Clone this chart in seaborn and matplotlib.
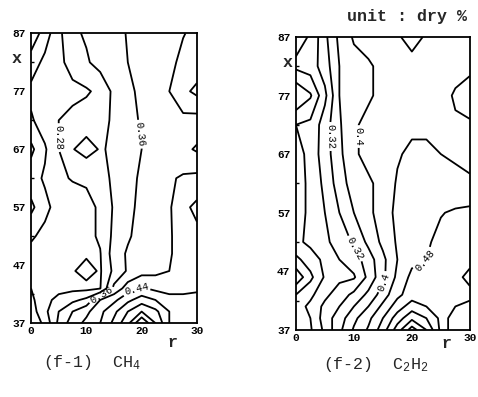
import numpy as np
import matplotlib
matplotlib.use("Agg")
import matplotlib.pyplot as plt
import seaborn as sns

sns.set_theme(style="white")
plt.rcParams['font.family'] = ['Liberation Mono', 'DejaVu Sans']
plt.rcParams['mathtext.fontset'] = 'custom'
plt.rcParams['mathtext.rm'] = 'Liberation Mono'
plt.rcParams['mathtext.it'] = 'Liberation Mono'

# grid (r across, x up)
r_vals = [0, 2.5, 5, 7.5, 10, 12.5, 15, 17.5, 20, 22.5, 25, 27.5, 30]
x_vals = [87, 82, 77, 72, 67, 62, 57, 52, 49, 46, 43, 41, 39, 37]

# (f-1) CH4, rows from x=87 down to x=37
ch4 = [
    [0.17, 0.22, 0.27, 0.312, 0.325, 0.34, 0.35, 0.362, 0.37, 0.38, 0.39, 0.399, 0.405],
    [0.22, 0.25, 0.27, 0.295, 0.315, 0.335, 0.35, 0.36, 0.37, 0.38, 0.395, 0.405, 0.415],
    [0.25, 0.26, 0.265, 0.27, 0.275, 0.29, 0.33, 0.35, 0.37, 0.385, 0.40, 0.43, 0.45],
    [0.235, 0.26, 0.28, 0.29, 0.30, 0.31, 0.325, 0.345, 0.365, 0.38, 0.395, 0.39, 0.385],
    [0.19, 0.235, 0.28, 0.318, 0.335, 0.317, 0.325, 0.345, 0.36, 0.375, 0.385, 0.37, 0.355],
    [0.225, 0.245, 0.275, 0.282, 0.285, 0.30, 0.33, 0.35, 0.365, 0.38, 0.395, 0.405, 0.41],
    [0.19, 0.23, 0.255, 0.265, 0.27, 0.285, 0.325, 0.35, 0.37, 0.385, 0.395, 0.43, 0.45],
    [0.235, 0.25, 0.26, 0.265, 0.27, 0.285, 0.33, 0.355, 0.375, 0.385, 0.395, 0.42, 0.43],
    [0.25, 0.255, 0.262, 0.27, 0.275, 0.278, 0.34, 0.365, 0.38, 0.39, 0.395, 0.42, 0.43],
    [0.25, 0.258, 0.265, 0.277, 0.292, 0.276, 0.33, 0.365, 0.385, 0.39, 0.40, 0.42, 0.43],
    [0.24, 0.26, 0.27, 0.27, 0.27, 0.278, 0.37, 0.42, 0.445, 0.43, 0.42, 0.43, 0.435],
    [0.23, 0.27, 0.29, 0.31, 0.33, 0.40, 0.43, 0.47, 0.50, 0.48, 0.46, 0.45, 0.45],
    [0.22, 0.27, 0.32, 0.36, 0.39, 0.43, 0.47, 0.52, 0.56, 0.53, 0.48, 0.46, 0.46],
    [0.21, 0.25, 0.33, 0.38, 0.41, 0.44, 0.49, 0.55, 0.64, 0.56, 0.48, 0.46, 0.47],
]

# (f-2) C2H2, rows from x=87 down to x=37
c2h2 = [
    [0.22, 0.245, 0.31, 0.37, 0.405, 0.415, 0.42, 0.435, 0.455, 0.435, 0.425, 0.43, 0.43],
    [0.25, 0.26, 0.30, 0.36, 0.385, 0.395, 0.41, 0.42, 0.425, 0.42, 0.42, 0.425, 0.43],
    [0.16, 0.195, 0.27, 0.36, 0.38, 0.395, 0.41, 0.42, 0.42, 0.42, 0.425, 0.445, 0.46],
    [0.24, 0.25, 0.30, 0.355, 0.395, 0.41, 0.42, 0.425, 0.43, 0.43, 0.43, 0.435, 0.435],
    [0.22, 0.255, 0.30, 0.35, 0.395, 0.41, 0.415, 0.435, 0.45, 0.45, 0.44, 0.435, 0.43],
    [0.22, 0.25, 0.29, 0.34, 0.38, 0.395, 0.41, 0.445, 0.46, 0.46, 0.455, 0.45, 0.445],
    [0.22, 0.25, 0.28, 0.32, 0.36, 0.39, 0.42, 0.45, 0.47, 0.475, 0.478, 0.485, 0.49],
    [0.23, 0.25, 0.27, 0.30, 0.325, 0.37, 0.41, 0.445, 0.465, 0.475, 0.49, 0.50, 0.50],
    [0.19, 0.22, 0.25, 0.28, 0.30, 0.34, 0.39, 0.44, 0.47, 0.48, 0.495, 0.51, 0.51],
    [0.13, 0.19, 0.245, 0.27, 0.275, 0.33, 0.39, 0.45, 0.49, 0.50, 0.505, 0.51, 0.53],
    [0.20, 0.23, 0.27, 0.30, 0.33, 0.37, 0.42, 0.47, 0.50, 0.505, 0.50, 0.505, 0.51],
    [0.22, 0.25, 0.29, 0.32, 0.36, 0.40, 0.45, 0.50, 0.54, 0.52, 0.51, 0.52, 0.53],
    [0.21, 0.24, 0.30, 0.34, 0.39, 0.43, 0.48, 0.54, 0.59, 0.56, 0.51, 0.53, 0.55],
    [0.20, 0.235, 0.29, 0.35, 0.405, 0.445, 0.50, 0.58, 0.66, 0.60, 0.51, 0.53, 0.55],
]

levels = [0.16, 0.20, 0.24, 0.28, 0.32, 0.36, 0.40, 0.44, 0.48, 0.52, 0.56, 0.60, 0.64]
# labelled level -> spots where the label sits
ch4_labels = {0.28: [(5.6, 69)], 0.36: [(18.8, 69.5), (12.5, 42.2)], 0.44: [(19.7, 41.5)]}
c2h2_labels = {0.32: [(5.5, 70), (9.8, 50.7)], 0.40: [(10.5, 70), (14.5, 45.4)],
               0.48: [(22.6, 48.4)]}
y_ticks = [37, 47, 57, 67, 77, 87]
y_minor = [42, 52, 62, 72, 82]
x_ticks = [0, 10, 20, 30]


def fmt(v):
    return ('%.2f' % v).rstrip('0')


def draw_panel(ax, field, labels, xlab_pos, rlab_pos):
    Z = np.array(field)[::-1]
    xs = x_vals[::-1]
    plain = [l for l in levels if l not in labels]
    ax.contour(r_vals, xs, Z, levels=plain, colors='black', linewidths=1.3)
    for lev, spots in labels.items():
        cs = ax.contour(r_vals, xs, Z, levels=[lev], colors='black', linewidths=1.3)
        ax.clabel(cs, manual=spots, fmt=fmt, fontsize=7.5, inline=True, inline_spacing=2)
    ax.set_xlim(0, 30)
    ax.set_ylim(37, 87)
    ax.set_xticks(x_ticks)
    ax.set_yticks(y_ticks)
    ax.set_yticks(y_minor, minor=True)
    ax.set_xticklabels([str(t) for t in x_ticks], fontweight='bold')
    ax.set_yticklabels([str(t) for t in y_ticks], fontweight='bold')
    ax.tick_params(which='major', direction='in', length=3, width=1, labelsize=8,
                   colors='black')
    ax.tick_params(axis='y', which='major', pad=4)
    ax.tick_params(axis='x', which='major', pad=2)
    ax.tick_params(which='minor', axis='y', direction='in', length=2.5, width=1,
                   colors='black', left=True)
    for sp in ax.spines.values():
        sp.set_color('black')
        sp.set_linewidth(1.3)
    ax.text(xlab_pos[0], xlab_pos[1], 'x', transform=ax.transAxes, fontsize=12,
            fontweight='bold', ha='center', va='center')
    ax.text(rlab_pos[0], rlab_pos[1], 'r', transform=ax.transAxes, fontsize=12,
            fontweight='bold', ha='center', va='center')


fig = plt.figure(figsize=(4.78, 3.97), dpi=100)
ax1 = fig.add_axes([0.065, 0.186, 0.347, 0.730])
ax2 = fig.add_axes([0.619, 0.169, 0.364, 0.738])

draw_panel(ax1, ch4, ch4_labels, (-0.09, 0.914), (0.85, -0.066))
draw_panel(ax2, c2h2, c2h2_labels, (-0.05, 0.911), (0.868, -0.046))

fig.text(92 / 478, 1 - 362 / 397, '(f-1)  CH$_4$', ha='center', va='center', fontsize=12)
fig.text(376 / 478, 1 - 364 / 397, '(f-2)  C$_2$H$_2$', ha='center', va='center',
         fontsize=12)
fig.text(407 / 478, 1 - 16 / 397, 'unit : dry %', ha='center', va='center',
         fontsize=12, fontweight='bold')

fig.savefig('out.png', dpi=100, facecolor='white')
